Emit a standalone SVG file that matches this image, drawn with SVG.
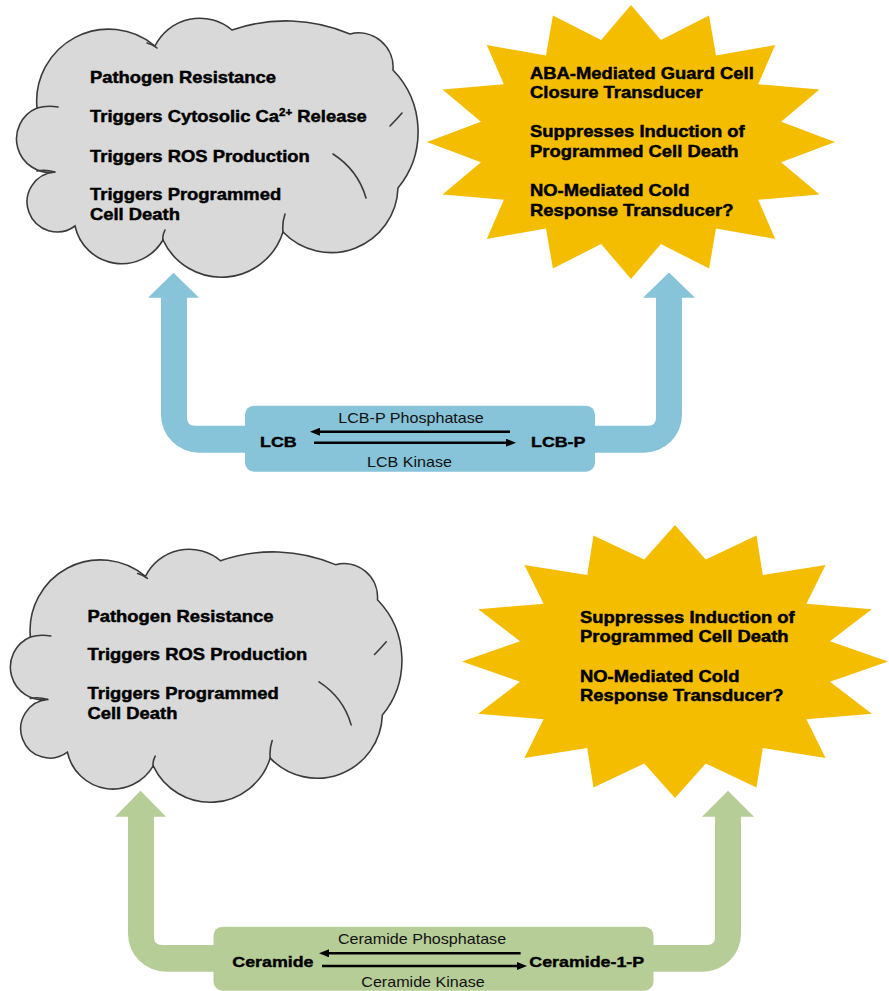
<svg xmlns="http://www.w3.org/2000/svg" width="889" height="991" viewBox="0 0 889 991">
<style>
.cloud{fill:#D9D9D9;stroke:#3A3A3A;stroke-width:1.6}
.crease{fill:none;stroke:#3A3A3A;stroke-width:1.6;stroke-linecap:round}
.star{fill:#F5BD00}
.bt{font-family:"Liberation Sans",Arial,sans-serif;font-weight:bold;font-size:16px;fill:#000;stroke:#000;stroke-width:0.45}
.bb{font-family:"Liberation Sans",Arial,sans-serif;font-weight:bold;font-size:15.5px;fill:#000;stroke:#000;stroke-width:0.4}
.rt{font-family:"Liberation Sans",Arial,sans-serif;font-size:14px;fill:#111}
.blue{fill:#87C3D9}
.green{fill:#B6CD97}
.rx{stroke:#000;stroke-width:2.5;fill:none;marker-end:url(#ah)}
</style>
<defs>
<marker id="ah" viewBox="0 0 10 8" refX="5" refY="4" markerWidth="10" markerHeight="8" markerUnits="userSpaceOnUse" orient="auto"><path d="M0,0 L10,4 L0,8 Z" fill="#000"/></marker>
<path id="cloudShape" d="M37,108 A72,72 0 0 1 155,46 A50,50 0 0 1 232,30 A164,164 0 0 1 350,34 A34.5,34.5 0 0 1 393,70 A88.7,88.7 0 0 1 398,188 A66.8,66.8 0 0 1 283,232 A64.5,64.5 0 0 1 163,240 A47.8,47.8 0 0 1 75,226 A30,30 0 1 1 55,172 A33.5,33.5 0 0 1 37,108 Z"/>
<path id="cloudCrease" d="M37,108 Q47,105 58,107 M147,43 Q152,44 157,48 M390,126 Q396,120 402,113 M333,154 Q358,170 366,198 M283,232 Q282,223 285,214 M163,240 Q162,236 165,230 M55,172 Q45,169 37,171"/>
</defs>

<g id="cloud-top">
<use href="#cloudShape" class="cloud"/>
<use href="#cloudCrease" class="crease"/>
<text class="bt" transform="translate(90 83) scale(1.15 1)"><tspan x="0" y="0">Pathogen Resistance</tspan><tspan x="0" y="39">Triggers Cytosolic Ca</tspan><tspan font-size="10" dy="-6">2+</tspan><tspan dy="6"> Release</tspan><tspan x="0" y="79">Triggers ROS Production</tspan><tspan x="0" y="117">Triggers Programmed</tspan><tspan x="0" y="137">Cell Death</tspan></text>
</g>

<g id="star-top">
<polygon class="star" points="631,5 660.9,40 709.1,15.4 716,55.5 775.2,45.1 758.2,84.2 819.5,89.6 781.1,121.7 835,142 781.1,162.3 819.5,194.4 758.2,199.8 775.2,238.9 716,228.5 709.1,268.6 660.9,244 631,279 601.1,244 552.9,268.6 546,228.5 486.8,238.9 503.8,199.8 442.5,194.4 480.9,162.3 427,142 480.9,121.7 442.5,89.6 503.8,84.2 486.8,45.1 546,55.5 552.9,15.4 601.1,40"/>
<text class="bt" transform="translate(530 78.5) scale(1.15 1)"><tspan x="0" y="0">ABA-Mediated Guard Cell</tspan><tspan x="0" y="19.5">Closure Transducer</tspan><tspan x="0" y="59">Suppresses Induction of</tspan><tspan x="0" y="78.5">Programmed Cell Death</tspan><tspan x="0" y="118">NO-Mediated Cold</tspan><tspan x="0" y="137.5">Response Transducer?</tspan></text>
</g>

<g id="box-lcb">
<rect class="blue" x="245" y="405.7" width="350" height="66" rx="9"/>
<text class="rt" text-anchor="middle" transform="translate(411 423.3) scale(1.15 1)">LCB-P Phosphatase</text>
<text class="bb" transform="translate(260 446.5) scale(1.15 1)">LCB</text>
<text class="bb" transform="translate(531 446.5) scale(1.15 1)">LCB-P</text>
<text class="rt" text-anchor="middle" transform="translate(409.5 467) scale(1.15 1)">LCB Kinase</text>
</g>

<g id="cloud-bottom">
<g transform="translate(6 550) scale(0.975 0.977) translate(-12 -19)">
<use href="#cloudShape" class="cloud"/>
<use href="#cloudCrease" class="crease"/>
</g>
<text class="bt" transform="translate(87.5 621.7) scale(1.15 1)"><tspan x="0" y="0">Pathogen Resistance</tspan><tspan x="0" y="38.5">Triggers ROS Production</tspan><tspan x="0" y="77.5">Triggers Programmed</tspan><tspan x="0" y="97.5">Cell Death</tspan></text>
</g>

<g id="star-bottom">
<polygon class="star" points="675,525 705.8,559.5 756.5,535.4 762.8,575 825.6,565 806.4,603.7 871.8,609.3 830,641.2 888,661.5 830,681.8 871.8,713.7 806.4,719.3 825.6,758 762.8,748 756.5,787.6 705.8,763.5 675,798 644.2,763.5 593.5,787.6 587.2,748 524.4,758 543.6,719.3 478.2,713.7 520,681.8 462,661.5 520,641.2 478.2,609.3 543.6,603.7 524.4,565 587.2,575 593.5,535.4 644.2,559.5"/>
<text class="bt" transform="translate(580 622.7) scale(1.15 1)"><tspan x="0" y="0">Suppresses Induction of</tspan><tspan x="0" y="19.5">Programmed Cell Death</tspan><tspan x="0" y="59">NO-Mediated Cold</tspan><tspan x="0" y="78.5">Response Transducer?</tspan></text>
</g>

<g id="box-ceramide">
<rect class="green" x="213.5" y="926.7" width="440" height="64" rx="9"/>
<text class="rt" text-anchor="middle" transform="translate(422 944) scale(1.15 1)">Ceramide Phosphatase</text>
<text class="bb" transform="translate(232.3 966.7) scale(1.15 1)">Ceramide</text>
<text class="bb" transform="translate(529.3 966.7) scale(1.15 1)">Ceramide-1-P</text>
<text class="rt" text-anchor="middle" transform="translate(423 986.5) scale(1.15 1)">Ceramide Kinase</text>
</g>

<g id="connectors">
<path class="blue" d="M173.5,272.7 L199,297.7 L187,297.7 L187,417.7 Q187,425.7 195,425.7 L246,425.7 L246,452.7 L199,452.7 A38,38 0 0 1 161,414.7 L161,297.7 L148,297.7 Z"/>
<path class="blue" d="M669,272.5 L695,297.7 L682,297.7 L682,414.7 A38,38 0 0 1 644,452.7 L594,452.7 L594,425.7 L648,425.7 Q656,425.7 656,417.7 L656,297.7 L643,297.7 Z"/>
<path class="green" d="M140.5,790.7 L166,816.7 L154,816.7 L154,937 Q154,945 162,945 L214.5,945 L214.5,971.7 L166,971.7 A38,38 0 0 1 128,933.7 L128,816.7 L115,816.7 Z"/>
<path class="green" d="M728,790.7 L754,816.7 L741,816.7 L741,933.7 A38,38 0 0 1 703,971.7 L652.5,971.7 L652.5,945 L707,945 Q715,945 715,937 L715,816.7 L702,816.7 Z"/>
<line class="rx" x1="510" y1="431.7" x2="315" y2="431.7"/>
<line class="rx" x1="314" y1="442.7" x2="511" y2="442.7"/>
<line class="rx" x1="520.6" y1="953.3" x2="324" y2="953.3"/>
<line class="rx" x1="322" y1="966" x2="522" y2="966"/>
</g>
</svg>
